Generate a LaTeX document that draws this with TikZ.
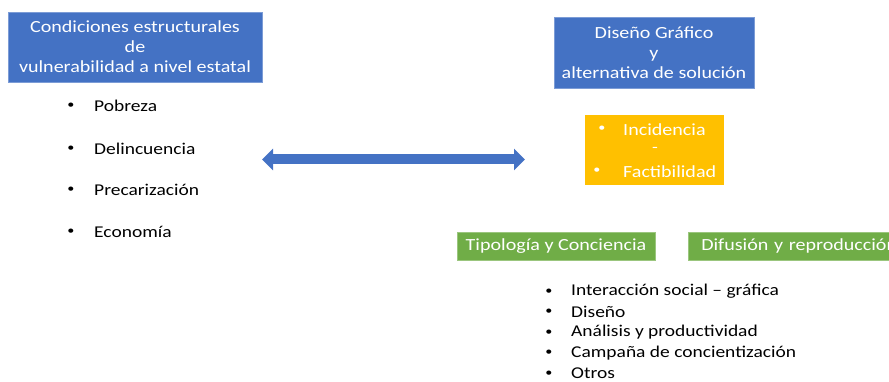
\documentclass[tikz,border=0pt]{standalone}
\usepackage{fontspec}
\setmainfont{Carlito}[FakeStretch=1.18]
\usetikzlibrary{arrows.meta}
\definecolor{cblue}{HTML}{4472C4}
\definecolor{cyellow}{HTML}{FFC000}
\definecolor{cgreen}{HTML}{70AD47}
\begin{document}
\begin{tikzpicture}[x=1pt,y=-1pt,
  bluebox/.style={fill=cblue,draw=cblue!70!white,line width=0.6pt,text=white,align=center,inner sep=0pt,font=\fontsize{17}{20}\selectfont},
  yelbox/.style={fill=cyellow,text=white,inner sep=0pt},
  grnbox/.style={fill=cgreen,draw=cgreen!70!white,line width=0.6pt,text=white,inner sep=0pt,font=\fontsize{17}{20}\selectfont},
  item/.style={anchor=west,inner sep=0pt,font=\fontsize{16.5}{20}\selectfont},
  bul/.style={inner sep=0pt,font=\fontsize{12}{14}\selectfont}]
\useasboundingbox (0,0) rectangle (889,382);
\clip (0,0) rectangle (889,382);
% top boxes
\node[bluebox,minimum width=254pt,minimum height=70pt] (cond) at (135,47)
  {Condiciones estructurales\\de\\vulnerabilidad a nivel estatal};
\node[bluebox,minimum width=200pt,minimum height=71pt] (dis) at (654,52.5)
  {Diseño Gráfico\\y\\alternativa de solución};
% yellow
\node[yelbox,minimum width=139pt,minimum height=70pt] (yel) at (654.5,150) {};
\node[bul,text=white] (yb1) at (602,129) {•};
\node[item,text=white,font=\fontsize{17}{20}\selectfont] (yt1) at (623,129.5) {Incidencia};
\node[bul,text=white,font=\fontsize{16}{20}\selectfont] (ydash) at (655,150) {-};
\node[bul,text=white] (yb2) at (597,171) {•};
\node[item,text=white,font=\fontsize{17}{20}\selectfont] (yt2) at (623,171.5) {Factibilidad};
% green
\node[grnbox,minimum width=198pt,minimum height=28pt] (tip) at (556,246) {Tipología y Conciencia};
\node[grnbox,minimum width=230pt,minimum height=28pt,anchor=west,text width=222pt,align=left] (dif) at (688,246) {\hspace*{9pt}Difusión y reproducción};
% left list
\foreach \t/\yy/\n in {Pobreza/106/a,Delincuencia/149/b,Precarización/190/c,Economía/232/d}{
  \node[bul] (lb\n) at (71,\yy) {•};
  \node[item] (lt\n) at (94,\yy) {\t};
}
% bottom list
\foreach \t/\yy/\n in {Interacción social – gráfica/291.5/a,Diseño/312/b,Análisis y productividad/332.5/c,Campaña de concientización/353/d,Otros/373.5/e}{
  \node[bul] (bb\n) at (549,\yy) {•};
  \node[item] (bt\n) at (571,\yy) {\t};
}
% arrow
\coordinate (aL) at (262,159.5);
\coordinate (aR) at (525,159.5);
\draw[cblue,line width=10pt,{Triangle[length=11pt,width=21pt]}-{Triangle[length=11pt,width=21pt]}] (aL) -- (aR);
\end{tikzpicture}
\end{document}
